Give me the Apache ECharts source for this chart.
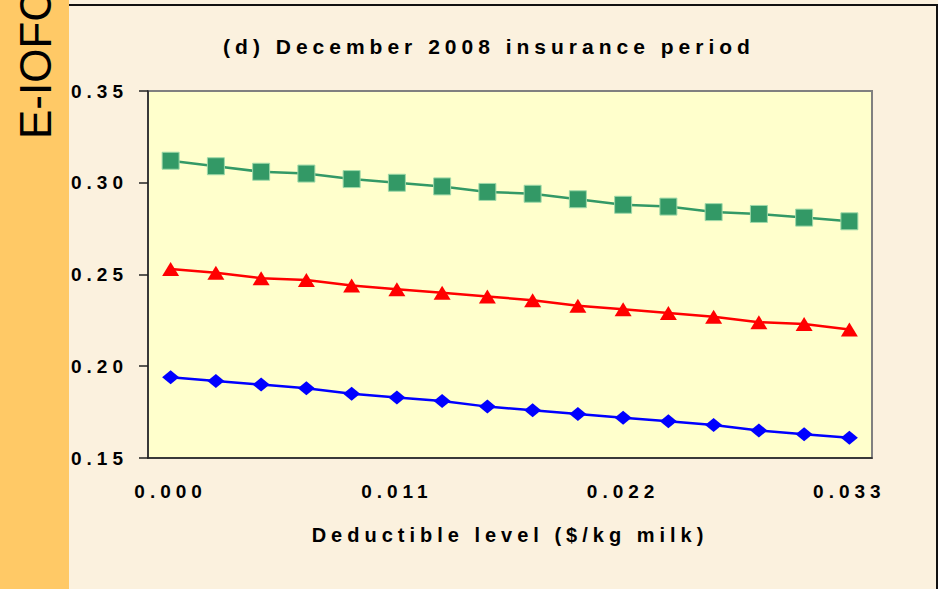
<!DOCTYPE html>
<html>
<head>
<meta charset="utf-8">
<script src="https://cdn.jsdelivr.net/npm/echarts@6/dist/echarts.min.js"></script>
<style>
html, body { margin: 0; padding: 0; background: #ffffff; }
#chart { width: 944px; height: 589px; }
/* the source slide has widely tracked letters */
#chart text { letter-spacing: 5px; }
</style>
</head>
<body>
<div id="chart"></div>
<script>
// deductible levels ($/kg milk), one category per point
const deductibles = [0.0000, 0.0022, 0.0044, 0.0066, 0.0088, 0.0110, 0.0132, 0.0154,
    0.0176, 0.0198, 0.0220, 0.0242, 0.0264, 0.0286, 0.0308, 0.0330]
const upperValues = [0.312, 0.309, 0.306, 0.305, 0.302, 0.300, 0.298, 0.295,
    0.294, 0.291, 0.288, 0.287, 0.284, 0.283, 0.281, 0.279]
const middleValues = [0.253, 0.251, 0.248, 0.247, 0.244, 0.242, 0.240, 0.238,
    0.236, 0.233, 0.231, 0.229, 0.227, 0.224, 0.223, 0.220]
const lowerValues = [0.194, 0.192, 0.190, 0.188, 0.185, 0.183, 0.181, 0.178,
    0.176, 0.174, 0.172, 0.170, 0.168, 0.165, 0.163, 0.161]
const yTicks = [0.15, 0.20, 0.25, 0.30, 0.35]

const FONT = '"Liberation Sans", Arial, sans-serif'
const dom = document.getElementById('chart')
const chart = echarts.init(dom, null, { renderer: 'svg' })

const option = {
    backgroundColor: '#fbf1de',
    animation: false,
    title: {
        text: '(d) December 2008 insurance period',
        left: 484,
        top: 31,
        textAlign: 'center',
        textStyle: { fontFamily: FONT, fontSize: 21, fontWeight: 'bold', color: '#000' },
    },
    graphic: [
        // orange slide strip + cut off heading
        { type: 'rect', z: -1, silent: true, shape: { x: 0, y: 0, width: 69, height: 589 }, style: { fill: '#ffc966' } },
        { type: 'rect', z: -1, silent: true, shape: { x: 938, y: 0, width: 6, height: 589 }, style: { fill: '#ffffff' } },
        { type: 'polyline', z: -1, silent: true, shape: { points: [[69, 5], [937, 5], [937, 589]] }, style: { stroke: '#111', lineWidth: 2, fill: 'none' } },
        {
            type: 'text', x: 35, y: 139, rotation: Math.PI / 2,
            style: { text: 'E-IOFC', fontFamily: FONT, fontSize: 44, fill: '#000', align: 'left', verticalAlign: 'middle' },
        },
    ],
    grid: {
        left: 148, right: 72, top: 91, bottom: 131,
        show: true, backgroundColor: '#ffffcc', borderColor: '#808080', borderWidth: 2,
    },
    xAxis: {
        type: 'category',
        data: deductibles,
        boundaryGap: true,
        name: 'Deductible level ($/kg milk)',
        nameLocation: 'middle',
        nameGap: 67,
        nameTextStyle: { fontFamily: FONT, fontSize: 20, fontWeight: 'bold', color: '#000' },
        axisLine: { lineStyle: { color: '#222', width: 1.5 } },
        axisTick: { interval: 0, length: 6, lineStyle: { color: '#222', width: 1.5 } },
        axisLabel: {
            interval: 4,
            margin: 24,
            fontFamily: FONT, fontSize: 19, fontWeight: 'bold', color: '#000',
            formatter: v => Number(v).toFixed(3),
        },
        splitLine: { show: false },
    },
    yAxis: {
        type: 'value',
        min: yTicks[0],
        max: yTicks[yTicks.length - 1],
        interval: 0.05,
        axisLine: { show: true, lineStyle: { color: '#222', width: 1.5 } },
        axisTick: { show: true, length: 9, lineStyle: { color: '#222', width: 1.5 } },
        axisLabel: {
            margin: 20,
            fontFamily: FONT, fontSize: 19, fontWeight: 'bold', color: '#000',
            formatter: v => v.toFixed(2),
        },
        splitLine: { show: false },
    },
    series: [
        {
            name: 'upper', type: 'line', data: upperValues,
            symbol: 'rect', symbolSize: 17,
            lineStyle: { color: '#339966', width: 2.5 },
            itemStyle: { color: '#339966', borderColor: '#9fd9a8', borderWidth: 1 },
        },
        {
            name: 'middle', type: 'line', data: middleValues,
            symbol: 'triangle', symbolSize: [17, 14],
            lineStyle: { color: '#ff0000', width: 2.5 },
            itemStyle: { color: '#ff0000' },
        },
        {
            name: 'lower', type: 'line', data: lowerValues,
            symbol: 'diamond', symbolSize: [17, 14],
            lineStyle: { color: '#0000ff', width: 2.5 },
            itemStyle: { color: '#0000ff' },
        },
    ],
}
chart.setOption(option)

// the side heading is not tracked like the chart texts
const fixHeading = () => {
    dom.querySelectorAll('text').forEach(t => {
        if (t.textContent === 'E-IOFC') t.style.letterSpacing = '0px'
    })
}
chart.on('finished', fixHeading)
fixHeading()
</script>
</body>
</html>
